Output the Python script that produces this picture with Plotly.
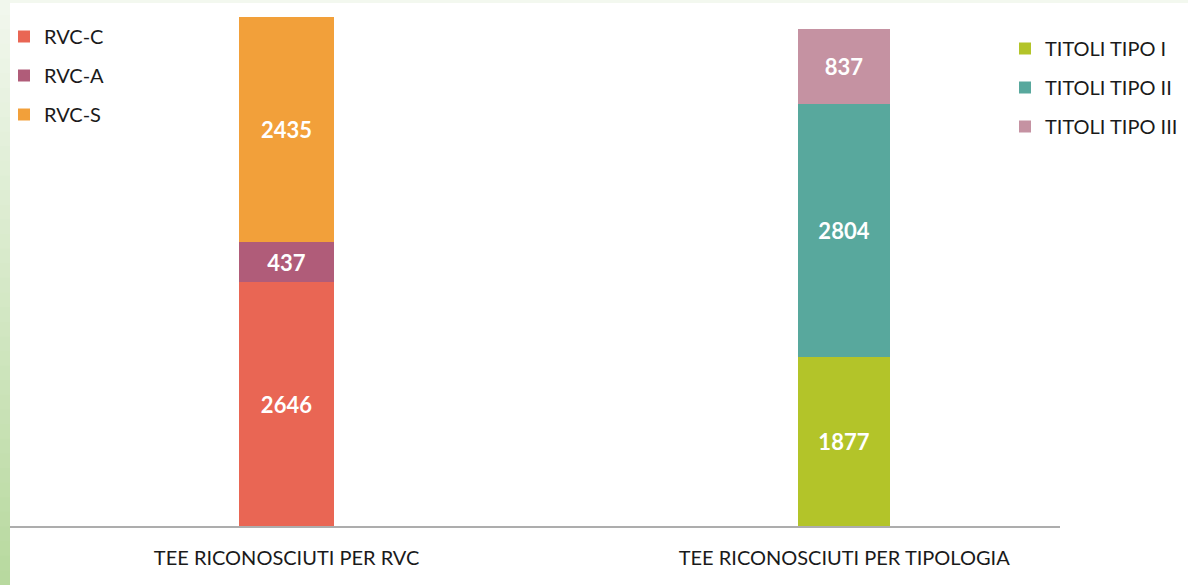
import plotly.graph_objects as go

categories = ["TEE RICONOSCIUTI PER RVC", "TEE RICONOSCIUTI PER TIPOLOGIA"]

rvc_names = ["RVC-C", "RVC-A", "RVC-S"]
rvc_values = [2646, 437, 2435]
rvc_colors = ["#E96654", "#B05C79", "#F2A03A"]

tipo_names = ["TITOLI TIPO I", "TITOLI TIPO II", "TITOLI TIPO III"]
tipo_values = [1877, 2804, 837]
tipo_colors = ["#B3C429", "#58A89D", "#C592A2"]

W, H = 1188, 585
ML, MR, MT, MB = 10, 128, 4, 59
PW, PH = W - ML - MR, H - MT - MB

fig = go.Figure()
for n, v, c in zip(rvc_names, rvc_values, rvc_colors):
    fig.add_trace(go.Bar(
        x=[categories[0]], y=[v], name=n, marker=dict(color=c, line=dict(width=0)),
        width=0.17, text=[str(v)], textposition="inside", insidetextanchor="middle",
        textfont=dict(color="white", size=22, family="Lato", weight="bold"), textangle=0,
        legend="legend", yaxis="y", legendgroup=n, hoverinfo="skip",
    ))
for n, v, c in zip(tipo_names, tipo_values, tipo_colors):
    fig.add_trace(go.Bar(
        x=[categories[1]], y=[v], name=n, marker=dict(color=c, line=dict(width=0)),
        width=0.165, text=[str(v)], textposition="inside", insidetextanchor="middle",
        textfont=dict(color="white", size=22, family="Lato", weight="bold"), textangle=0,
        legend="legend2", yaxis="y2", legendgroup=n, hoverinfo="skip",
    ))

# left gradient strip and top strip (decoration)
shapes = []
nstep = 40
c0 = (0xF1, 0xF7, 0xED)
c1 = (0xB8, 0xD9, 0x9F)
step = (H / PH) / nstep
for i in range(nstep):
    t = i / (nstep - 1)
    col = "rgb(%d,%d,%d)" % tuple(round(a + (b - a) * t) for a, b in zip(c0, c1))
    top = 1 + MT / PH - i * step
    shapes.append(dict(type="rect", xref="paper", yref="paper",
                       x0=-ML / PW, x1=0, y0=top - step - 2 / PH, y1=top,
                       fillcolor=col, line=dict(width=0), layer="below"))
shapes.append(dict(type="rect", xref="paper", yref="paper", x0=0, x1=1 + MR / PW,
                   y0=1 + 1 / PH, y1=1 + MT / PH, fillcolor="#F3F8EF",
                   line=dict(width=0), layer="below"))

legfont = dict(size=20, family="Lato", color="#1a1a1a")
fig.update_layout(
    width=W, height=H,
    margin=dict(l=ML, r=MR, t=MT, b=MB),
    paper_bgcolor="white", plot_bgcolor="white",
    barmode="stack", bargap=0,
    font=dict(family="Lato", color="#1a1a1a"),
    shapes=shapes,
    xaxis=dict(type="category", range=[-0.496, 1.387], showline=True, linecolor="#ADADAD",
               linewidth=2, showgrid=False, ticks="", ticklabelstandoff=13,
               tickfont=dict(size=20, family="Lato", color="#1a1a1a"), fixedrange=True),
    yaxis=dict(range=[0, 5659], visible=False, showgrid=False),
    yaxis2=dict(range=[0, 5796], visible=False, showgrid=False, overlaying="y"),
    legend=dict(x=-6 / PW, y=1 - (17 - MT) / PH, xanchor="left", yanchor="top",
                traceorder="grouped", font=legfont,
                tracegroupgap=10, bgcolor="rgba(0,0,0,0)"),
    legend2=dict(x=(1005 - ML) / PW, y=1 - (29 - MT) / PH, xanchor="left", yanchor="top",
                 traceorder="grouped", font=legfont,
                 tracegroupgap=10, bgcolor="rgba(0,0,0,0)"),
    showlegend=True,
    hovermode=False,
)

fig.write_html("out.html", config={"displayModeBar": False},
               post_script="document.body.style.margin='0';document.body.style.overflow='hidden';")
